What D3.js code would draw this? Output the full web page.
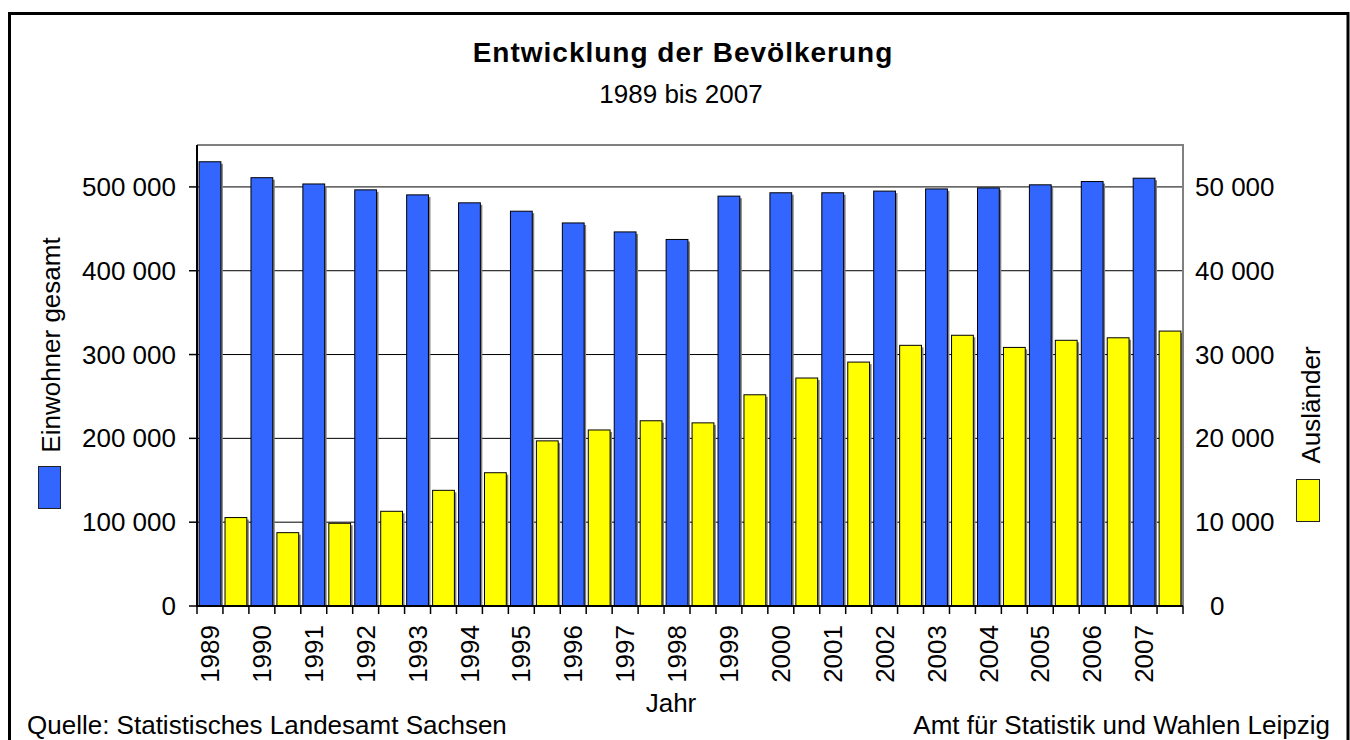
<!DOCTYPE html>
<html>
<head>
<meta charset="utf-8">
<script src="https://cdn.jsdelivr.net/npm/d3@7"></script>
<style>
  body { margin: 0; background: #fff; }
  svg text { font-family: "Liberation Sans", Arial, sans-serif; fill: #000; }
</style>
</head>
<body>
<svg id="chart" width="1350" height="740"></svg>
<script>
// ─── Data ───
const years = ["1989", "1990", "1991", "1992", "1993", "1994", "1995", "1996", "1997", "1998",
  "1999", "2000", "2001", "2002", "2003", "2004", "2005", "2006", "2007"];
const einwohner = [530000, 511000, 503500, 496500, 490500, 481000, 471000, 457000, 446300, 437300,
  489000, 493000, 493000, 495000, 497600, 498800, 502500, 506400, 510400];
const auslaender = [10550, 8750, 9870, 11300, 13800, 15900, 19700, 21000, 22100, 21850,
  25200, 27200, 29100, 31100, 32300, 30850, 31700, 32000, 32800];
const leftTicks = [0, 100000, 200000, 300000, 400000, 500000];
const rightTicks = [0, 10000, 20000, 30000, 40000, 50000];

const BLUE = "#3366ff";
const YELLOW = "#ffff00";
const FONT = 26;

// ─── Layout ───
const plot = { left: 197, right: 1183, top: 145, bottom: 606 };
const svg = d3.select("#chart");

// outer frame
svg.append("rect")
  .attr("x", 9.5).attr("y", 13.5).attr("width", 1338.5).attr("height", 800)
  .attr("fill", "#fff").attr("stroke", "#000").attr("stroke-width", 3);

// ─── Scales ───
const x0 = d3.scaleBand().domain(years).range([plot.left, plot.right]);
const x1 = d3.scaleBand().domain(["ew", "aus"]).range([0, x0.bandwidth()])
  .paddingInner(0.16).paddingOuter(0.08);
const yL = d3.scaleLinear().domain([0, 550000]).range([plot.bottom, plot.top]);
const yR = d3.scaleLinear().domain([0, 55000]).range([plot.bottom, plot.top]);

const fmt = (v) => d3.format(",")(v).replace(/,/g, " ");

// Grid
svg.append("g").selectAll("line")
  .data(leftTicks.filter((d) => d > 0))
  .join("line")
  .attr("x1", plot.left).attr("x2", plot.right)
  .attr("y1", (d) => yL(d)).attr("y2", (d) => yL(d))
  .attr("stroke", "#000").attr("stroke-width", 1);

// plot area border (top/right grey)
svg.append("path")
  .attr("d", `M${plot.left},${plot.top}H${plot.right}V${plot.bottom}`)
  .attr("fill", "none").attr("stroke", "#808080").attr("stroke-width", 2);

// ─── Bars ───
const rows = years.map((yr, i) => ({ year: yr, ew: einwohner[i], aus: auslaender[i] }));
const groups = svg.append("g").selectAll("g")
  .data(rows).join("g")
  .attr("transform", (d) => `translate(${x0(d.year)},0)`);

function bars(key, yScale, color) {
  groups.append("rect")
    .attr("x", x1(key) + 2).attr("y", (d) => yScale(d[key]) + 2)
    .attr("width", x1.bandwidth())
    .attr("height", (d) => plot.bottom - yScale(d[key]) - 2)
    .attr("fill", "#808080");
  groups.append("rect")
    .attr("x", x1(key)).attr("y", (d) => yScale(d[key]))
    .attr("width", x1.bandwidth())
    .attr("height", (d) => plot.bottom - yScale(d[key]))
    .attr("fill", color).attr("stroke", "#000").attr("stroke-width", 1);
}
bars("ew", yL, BLUE);
bars("aus", yR, YELLOW);

// ─── Axes ───
// left
const leftAxis = svg.append("g");
leftAxis.append("line")
  .attr("x1", plot.left).attr("x2", plot.left)
  .attr("y1", plot.top).attr("y2", plot.bottom)
  .attr("stroke", "#000").attr("stroke-width", 2);
leftAxis.selectAll("line.tick").data(leftTicks).join("line")
  .attr("class", "tick")
  .attr("x1", plot.left - 8).attr("x2", plot.left)
  .attr("y1", (d) => yL(d)).attr("y2", (d) => yL(d))
  .attr("stroke", "#000").attr("stroke-width", 1.5);
leftAxis.selectAll("text").data(leftTicks).join("text")
  .attr("x", 176).attr("y", (d) => yL(d)).attr("dy", "0.35em")
  .attr("text-anchor", "end").attr("font-size", FONT)
  .text(fmt);

// right
svg.append("g").selectAll("text").data(rightTicks).join("text")
  .attr("x", (d) => (d === 0 ? 1210 : 1195)).attr("y", (d) => yR(d)).attr("dy", "0.35em")
  .attr("font-size", FONT)
  .text(fmt);

// bottom
const halfTicks = [];
years.forEach((yr) => {
  halfTicks.push(x0(yr), x0(yr) + x0.bandwidth() / 2);
});
halfTicks.push(plot.right);
svg.append("g").selectAll("line").data(halfTicks).join("line")
  .attr("x1", (d) => d).attr("x2", (d) => d)
  .attr("y1", plot.bottom).attr("y2", plot.bottom + 8)
  .attr("stroke", "#000").attr("stroke-width", 1.5);
svg.append("line")
  .attr("x1", plot.left - 1).attr("x2", plot.right)
  .attr("y1", plot.bottom).attr("y2", plot.bottom)
  .attr("stroke", "#000").attr("stroke-width", 2);

svg.append("g").selectAll("text").data(years).join("text")
  .attr("transform", (d) => `translate(${x0(d) + x1("ew") + x1.bandwidth() / 2},625) rotate(-90)`)
  .attr("dy", "0.35em").attr("text-anchor", "end").attr("font-size", FONT)
  .text((d) => d);

// ─── Titles ───
svg.append("text").attr("x", 683).attr("y", 62).attr("text-anchor", "middle")
  .attr("font-size", 28).attr("font-weight", "bold").attr("letter-spacing", 1)
  .text("Entwicklung der Bevölkerung");
svg.append("text").attr("x", 681).attr("y", 103).attr("text-anchor", "middle")
  .attr("font-size", FONT).text("1989 bis 2007");
svg.append("text").attr("x", 671).attr("y", 712).attr("text-anchor", "middle")
  .attr("font-size", FONT).text("Jahr");
svg.append("text").attr("x", 27).attr("y", 734)
  .attr("font-size", FONT).text("Quelle: Statistisches Landesamt Sachsen");
svg.append("text").attr("x", 1330).attr("y", 734).attr("text-anchor", "end")
  .attr("font-size", FONT).text("Amt für Statistik und Wahlen Leipzig");

// ─── Legend (series names + swatches on the sides) ───
svg.append("text").attr("transform", "translate(60,345) rotate(-90)")
  .attr("text-anchor", "middle").attr("font-size", FONT).text("Einwohner gesamt");
svg.append("rect").attr("x", 38.5).attr("y", 466.5).attr("width", 22).attr("height", 42)
  .attr("fill", BLUE).attr("stroke", "#222").attr("stroke-width", 1);
svg.append("text").attr("transform", "translate(1320,405) rotate(-90)")
  .attr("text-anchor", "middle").attr("font-size", FONT).text("Ausländer");
svg.append("rect").attr("x", 1296.5).attr("y", 479.5).attr("width", 23).attr("height", 42)
  .attr("fill", YELLOW).attr("stroke", "#222").attr("stroke-width", 1);
</script>
</body>
</html>
